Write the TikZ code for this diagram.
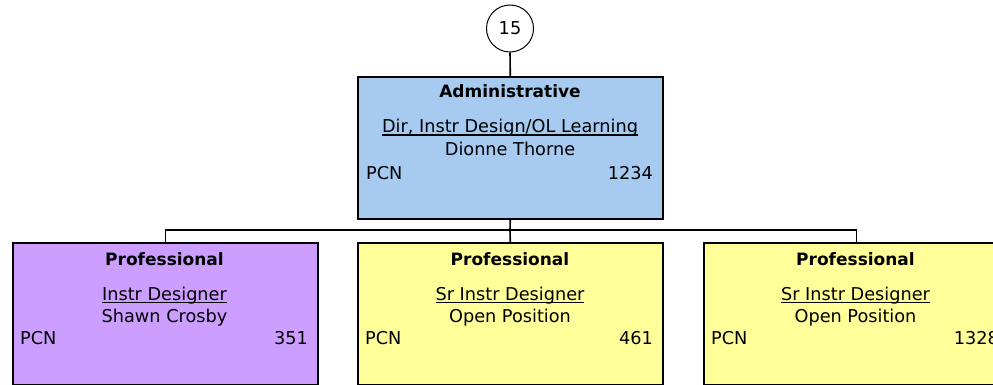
\documentclass[tikz,border=0pt]{standalone}
\usepackage{fontspec}
\setmainfont{DejaVu Sans}
\definecolor{adminblue}{HTML}{A6CAF0}
\definecolor{profpurple}{HTML}{CC9EFF}
\definecolor{profyellow}{HTML}{FFFF99}
\newcommand\myul[1]{\setbox0\hbox{#1}\rlap{\rule[-2.6pt]{\wd0}{1.1pt}}\box0}
\begin{document}
\begin{tikzpicture}[x=1pt,y=-1pt,
  box/.style={draw=black, line width=1.6pt, minimum width=305pt, minimum height=142pt, inner sep=0pt, anchor=north west},
  conn/.style={line width=1.6pt},
  txt/.style={font=\fontsize{17.7}{20}\selectfont, inner sep=0pt, anchor=base},
  hd/.style={inner sep=0pt, anchor=base, font=\fontsize{17}{20}\selectfont\bfseries},
  pcn/.style={txt, anchor=base west},
  num/.style={txt, anchor=base east}]
\useasboundingbox (0,0) rectangle (993,385);
\clip (0,0) rectangle (993,385);

% top circle
\node[circle, draw, line width=1pt, minimum size=47pt, inner sep=0pt, font=\fontsize{17.7}{20}\selectfont] (top) at (510,28.5) {15};

% administrative box
\node[box, fill=adminblue] (adm) at (357,76) {};
\node[hd] (admH) at (510,98) {Administrative};
\node[txt] (admT) at (510,133) {\myul{Dir, Instr Design/OL Learning}};
\node[txt] (admN) at (510,156) {Dionne Thorne};
\node[pcn] (admP) at (366,179) {PCN};
\node[num] (admR) at (653,179) {1234};

% professional boxes
\node[box, fill=profpurple] (p1) at (12,242) {};
\node[hd] (p1H) at (164.5,265) {Professional};
\node[txt] (p1T) at (164.5,300) {\myul{Instr Designer}};
\node[txt] (p1N) at (164.5,322) {Shawn Crosby};
\node[pcn] (p1P) at (20,344) {PCN};
\node[num] (p1R) at (308,344) {351};

\node[box, fill=profyellow] (p2) at (357,242) {};
\node[hd] (p2H) at (510,265) {Professional};
\node[txt] (p2T) at (510,300) {\myul{Sr Instr Designer}};
\node[txt] (p2N) at (510,322) {Open Position};
\node[pcn] (p2P) at (365,344) {PCN};
\node[num] (p2R) at (653,344) {461};

\node[box, fill=profyellow] (p3) at (703,242) {};
\node[hd] (p3H) at (855.5,265) {Professional};
\node[txt] (p3T) at (855.5,300) {\myul{Sr Instr Designer}};
\node[txt] (p3N) at (855.5,322) {Open Position};
\node[pcn] (p3P) at (711,344) {PCN};
\node[num] (p3R) at (999,344) {1328};

% connectors
\coordinate (bus) at (510,230);
\draw[conn] (top.south) -- (adm.north);
\draw[conn] (adm.south) -- (bus);
\draw[conn] (bus) -| (p1.north);
\draw[conn] (bus) -- (p2.north);
\draw[conn] (bus) -| (p3.north);
\end{tikzpicture}
\end{document}
